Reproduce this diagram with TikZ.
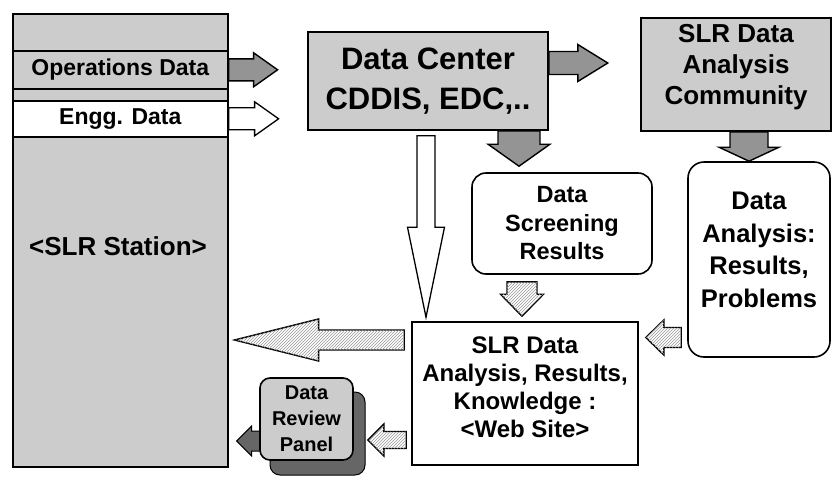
\documentclass[tikz,border=0pt]{standalone}
\usepackage{fontspec}
\setmainfont{Liberation Sans}
\usetikzlibrary{calc,patterns,backgrounds}

\definecolor{stip}{gray}{0.80}
\definecolor{stipdark}{gray}{0.58}
\definecolor{shade}{gray}{0.40}

% horizontal block arrow: style, tail, tip, shaft half-width, head half-width, signed head length
\newcommand\harr[6]{%
  \path[#1] let \p1=(#2), \p2=(#3) in
    (\x1,{\y1+#4}) -- ({\x2-(#6)},{\y1+#4}) -- ({\x2-(#6)},{\y1+#5}) -- (\x2,\y1)
    -- ({\x2-(#6)},{\y1-#5}) -- ({\x2-(#6)},{\y1-#4}) -- (\x1,{\y1-#4}) -- cycle;}
% vertical block arrow: same arguments
\newcommand\varr[6]{%
  \path[#1] let \p1=(#2), \p2=(#3) in
    ({\x1-#4},\y1) -- ({\x1-#4},{\y2-(#6)}) -- ({\x1-#5},{\y2-(#6)}) -- (\x1,\y2)
    -- ({\x1+#5},{\y2-(#6)}) -- ({\x1+#4},{\y2-(#6)}) -- ({\x1+#4},\y1) -- cycle;}

\newcommand\txtsz[2]{\fontsize{#1}{#2}\selectfont\bfseries}

\tikzset{
  box/.style={draw=black, line width=1.6pt, inner sep=0pt, align=center},
  roundbox/.style={box, rounded corners=14pt},
  arrowtex/.style={draw=black, line width=1.4pt, fill=stipdark, line join=miter},
  arrowwhite/.style={draw=black, line width=1.3pt, fill=white, line join=miter},
  arrowhatch/.style={draw=black, line width=1.4pt, fill=white, line join=miter,
    postaction={pattern=north east lines, pattern color=gray!80}},
  arrowdark/.style={draw=black, line width=1pt, fill=shade, line join=miter},
}

\begin{document}
\begin{tikzpicture}[x=1pt,y=-1pt]
\useasboundingbox (0,0) rectangle (832,477);

% ---- SLR station column
\node[box, fill=stip, minimum width=215pt, minimum height=453pt, anchor=north west] (station) at (12,13) {};
\node[box, fill=stip, minimum width=215pt, minimum height=38pt, anchor=north west,
      font=\txtsz{23}{27}] (ops) at (12,50) {Operations Data};
\node[box, fill=white, minimum width=215pt, minimum height=36pt, anchor=north west,
      font=\txtsz{23}{27}] (engg) at (12,100) {Engg. Data};
\node[font=\txtsz{26}{30}] (stationlbl) at (118,246) {<SLR Station>};

% ---- boxes
\node[box, fill=stip, minimum width=240pt, minimum height=98pt, font=\txtsz{31}{40}]
  (dc) at (428,81) {Data Center\\CDDIS, EDC,..};
\node[box, fill=stip, minimum width=190pt, minimum height=113pt] (comm) at (736,74.5) {};
\node[font=\txtsz{26}{31}, align=center] (commlbl) at (736,67) {SLR Data\\Analysis\\Community};
\node[roundbox, fill=white, minimum width=180pt, minimum height=101pt, font=\txtsz{23.5}{28.5}]
  (screen) at (562,223.5) {Data\\Screening\\Results};
\node[roundbox, fill=white, minimum width=142pt, minimum height=195pt, rounded corners=16pt] (danal) at (759,259.5) {};
\node[font=\txtsz{25.5}{32.5}, align=center] (danallbl) at (759,250) {Data\\Analysis:\\Results,\\Problems};
\node[box, fill=white, minimum width=226pt, minimum height=143pt] (web) at (525,393.5) {};
\node[font=\txtsz{24}{28}, align=center] (weblbl) at (525,387) {SLR Data\\Analysis, Results,\\Knowledge :\\<Web Site>};

% ---- review panel with its shadow
\path[fill=shade, draw=black, line width=1pt, rounded corners=10pt] (270,392) rectangle (365,475);
\node[box, fill=stip, rounded corners=10pt, minimum width=93pt, minimum height=82pt, font=\txtsz{20}{26}]
  (review) at (306.5,419) {Data\\Review\\Panel};

% ---- connectors
\coordinate (a1t) at ($(ops.east)+(49,0)$);
\harr{arrowtex}{ops.east}{a1t}{11pt}{17pt}{24pt}

\coordinate (a2t) at ($(engg.east)+(50,0)$);
\harr{arrowwhite}{engg.east}{a2t}{11pt}{17pt}{24pt}

\coordinate (a3s) at ($(dc.east)+(0,-18)$);
\coordinate (a3t) at ($(a3s)+(59,0)$);
\harr{arrowtex}{a3s}{a3t}{11.5pt}{18.5pt}{30pt}

\coordinate (a4s) at ($(dc.south)+(91,0)$);
\coordinate (a4t) at ($(a4s |- screen.north)+(0,-6)$);
\varr{arrowtex}{a4s}{a4t}{21pt}{31pt}{-22pt}

\coordinate (a5s) at ($(dc.south)+(-2,5)$);
\coordinate (a5t) at ($(a5s |- web.north)+(0,-4)$);
\varr{arrowwhite}{a5s}{a5t}{9pt}{18.5pt}{-90pt}

\coordinate (a6s) at ($(comm.south)+(13,0)$);
\coordinate (a6t) at (a6s |- danal.north);
\varr{arrowtex}{a6s}{a6t}{19pt}{30pt}{-14pt}

\coordinate (a7s) at ($(screen.south)+(-40,7)$);
\coordinate (a7t) at ($(a7s |- web.north)+(0,-5)$);
\varr{arrowhatch}{a7s}{a7t}{15pt}{21.5pt}{-22pt}

\coordinate (a8s) at ($(danal.west)+(-6,78)$);
\coordinate (a8t) at ($(a8s -| web.east)+(7,0)$);
\harr{arrowhatch}{a8s}{a8t}{10pt}{17.5pt}{-18pt}

\coordinate (a9s) at ($(web.west)+(-7,-53.5)$);
\coordinate (a9t) at ($(a9s -| station.east)+(6,0)$);
\harr{arrowhatch}{a9s}{a9t}{10pt}{21pt}{-84pt}

\coordinate (a10s) at ($(web.west)+(-5,46.5)$);
\coordinate (a10t) at ($(a10s -| review.east)+(14,0)$);
\harr{arrowhatch}{a10s}{a10t}{8.5pt}{16pt}{-16pt}

\begin{scope}[on background layer]
\coordinate (a11s) at ($(review.west)+(6,22)$);
\coordinate (a11t) at ($(a11s -| station.east)+(8,0)$);
\harr{arrowdark}{a11s}{a11t}{10pt}{15pt}{-15pt}
\end{scope}
\end{tikzpicture}
\end{document}
